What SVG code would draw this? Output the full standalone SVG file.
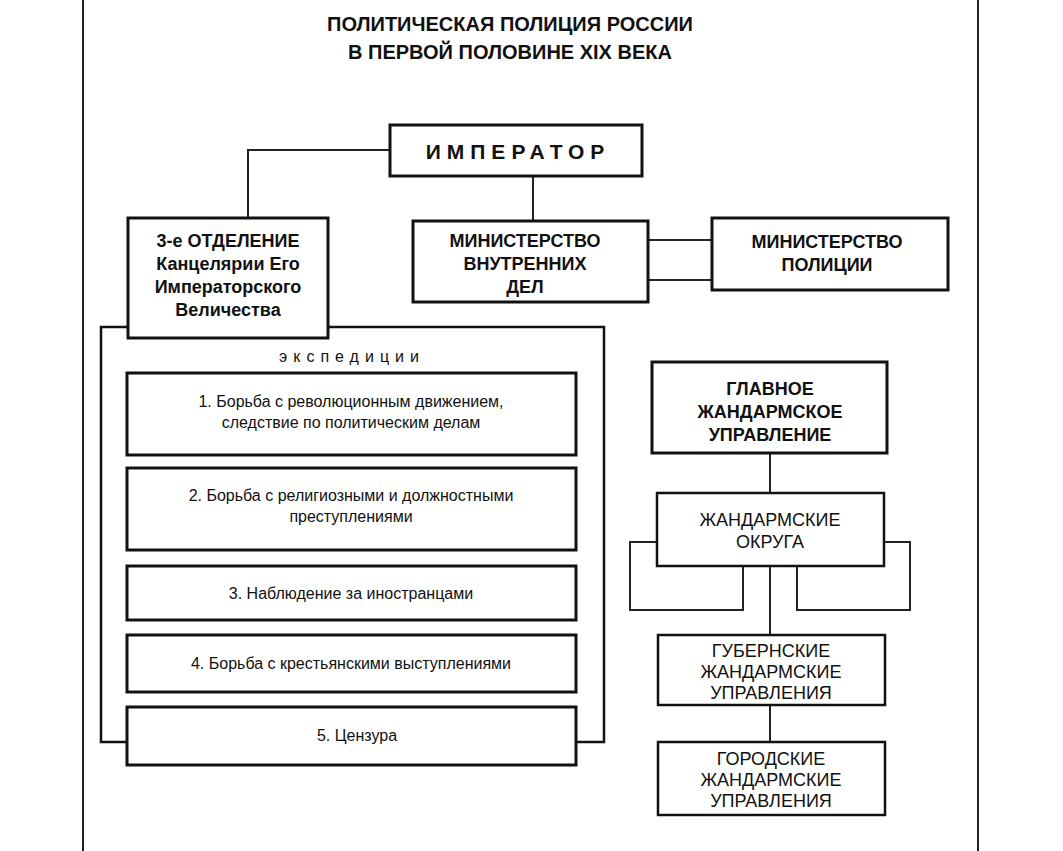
<svg xmlns="http://www.w3.org/2000/svg" width="1063" height="851" viewBox="0 0 1063 851">
<style>
rect{fill:#fff;stroke:#111;stroke-width:3}
.c line,.c polyline{stroke:#222;stroke-width:2;fill:none}
text{font-family:"Liberation Sans",Arial,sans-serif;fill:#111;text-anchor:middle}
.b{font-weight:bold;font-size:18px}
.n{font-size:16px}
.m{font-size:18px}
</style>
<rect x="0" y="0" width="1063" height="851" style="stroke:none"/>
<line x1="83" y1="0" x2="83" y2="851" stroke="#222" stroke-width="2"/>
<line x1="978" y1="0" x2="978" y2="851" stroke="#222" stroke-width="2"/>
<g id="title"><text class="b" x="510" y="31" style="font-size:20px">ПОЛИТИЧЕСКАЯ ПОЛИЦИЯ РОССИИ</text><text class="b" x="510" y="59" style="font-size:20px">В ПЕРВОЙ ПОЛОВИНЕ XIX ВЕКА</text></g>
<g class="c" id="connectors">
<polyline points="390,150 248,150 248,218"/>
<line x1="533" y1="176" x2="533" y2="221"/>
<line x1="648" y1="240" x2="712" y2="240"/>
<line x1="648" y1="280" x2="712" y2="280"/>
<line x1="770" y1="453" x2="770" y2="493"/>
<polyline points="657,542 630,542 630,610 743,610 743,566"/>
<polyline points="884,542 910,542 910,610 797,610 797,566"/>
<line x1="770" y1="566" x2="770" y2="635"/>
<line x1="770" y1="705" x2="770" y2="742"/>
</g>
<g id="expeditions"><rect x="101" y="327" width="503" height="415" style="stroke-width:2.5"/>
<text x="352" y="362" style="font-size:16px;letter-spacing:6px">экспедиции</text></g>
<g id="emperor"><rect x="390" y="125" width="252" height="51"/><text class="b" x="518" y="159" style="font-size:21px;letter-spacing:6px">ИМПЕРАТОР</text></g>
<g id="third"><rect x="128" y="218" width="200" height="120"/>
<text class="b" x="228" y="247">3-е ОТДЕЛЕНИЕ</text><text class="b" x="228" y="270">Канцелярии Его</text><text class="b" x="228" y="293">Императорского</text><text class="b" x="228" y="316">Величества</text></g>
<g id="mvd"><rect x="413" y="221" width="235" height="81"/>
<text class="b" x="525" y="247">МИНИСТЕРСТВО</text><text class="b" x="525" y="270">ВНУТРЕННИХ</text><text class="b" x="525" y="293">ДЕЛ</text></g>
<g id="police"><rect x="712" y="218" width="236" height="72"/>
<text class="b" x="827" y="248">МИНИСТЕРСТВО</text><text class="b" x="827" y="271">ПОЛИЦИИ</text></g>
<g id="e1"><rect x="127" y="373" width="449" height="82"/><text class="n" x="351" y="407">1. Борьба с революционным движением,</text><text class="n" x="351" y="428">следствие по политическим делам</text></g>
<g id="e2"><rect x="127" y="468" width="449" height="82"/><text class="n" x="351" y="501">2. Борьба с религиозными и должностными</text><text class="n" x="351" y="522">преступлениями</text></g>
<g id="e3"><rect x="127" y="566" width="449" height="54"/><text class="n" x="351" y="599">3. Наблюдение за иностранцами</text></g>
<g id="e4"><rect x="127" y="635" width="449" height="57"/><text class="n" x="351" y="669">4. Борьба с крестьянскими выступлениями</text></g>
<g id="e5"><rect x="127" y="707" width="449" height="58"/><text class="n" x="357" y="741">5. Цензура</text></g>
<g id="gzhu"><rect x="652" y="362" width="235" height="91"/>
<text class="b" x="770" y="395">ГЛАВНОЕ</text><text class="b" x="770" y="418">ЖАНДАРМСКОЕ</text><text class="b" x="770" y="441">УПРАВЛЕНИЕ</text></g>
<g id="okruga"><rect x="657" y="493" width="227" height="73" style="stroke-width:2.5"/>
<text class="m" x="770" y="526">ЖАНДАРМСКИЕ</text><text class="m" x="770" y="548">ОКРУГА</text></g>
<g id="gub"><rect x="658" y="635" width="227" height="70" style="stroke-width:2.5"/>
<text class="m" x="771" y="657">ГУБЕРНСКИЕ</text><text class="m" x="771" y="678">ЖАНДАРМСКИЕ</text><text class="m" x="771" y="699">УПРАВЛЕНИЯ</text></g>
<g id="gor"><rect x="658" y="742" width="227" height="73" style="stroke-width:2.5"/>
<text class="m" x="771" y="765">ГОРОДСКИЕ</text><text class="m" x="771" y="786">ЖАНДАРМСКИЕ</text><text class="m" x="771" y="807">УПРАВЛЕНИЯ</text></g>
</svg>
